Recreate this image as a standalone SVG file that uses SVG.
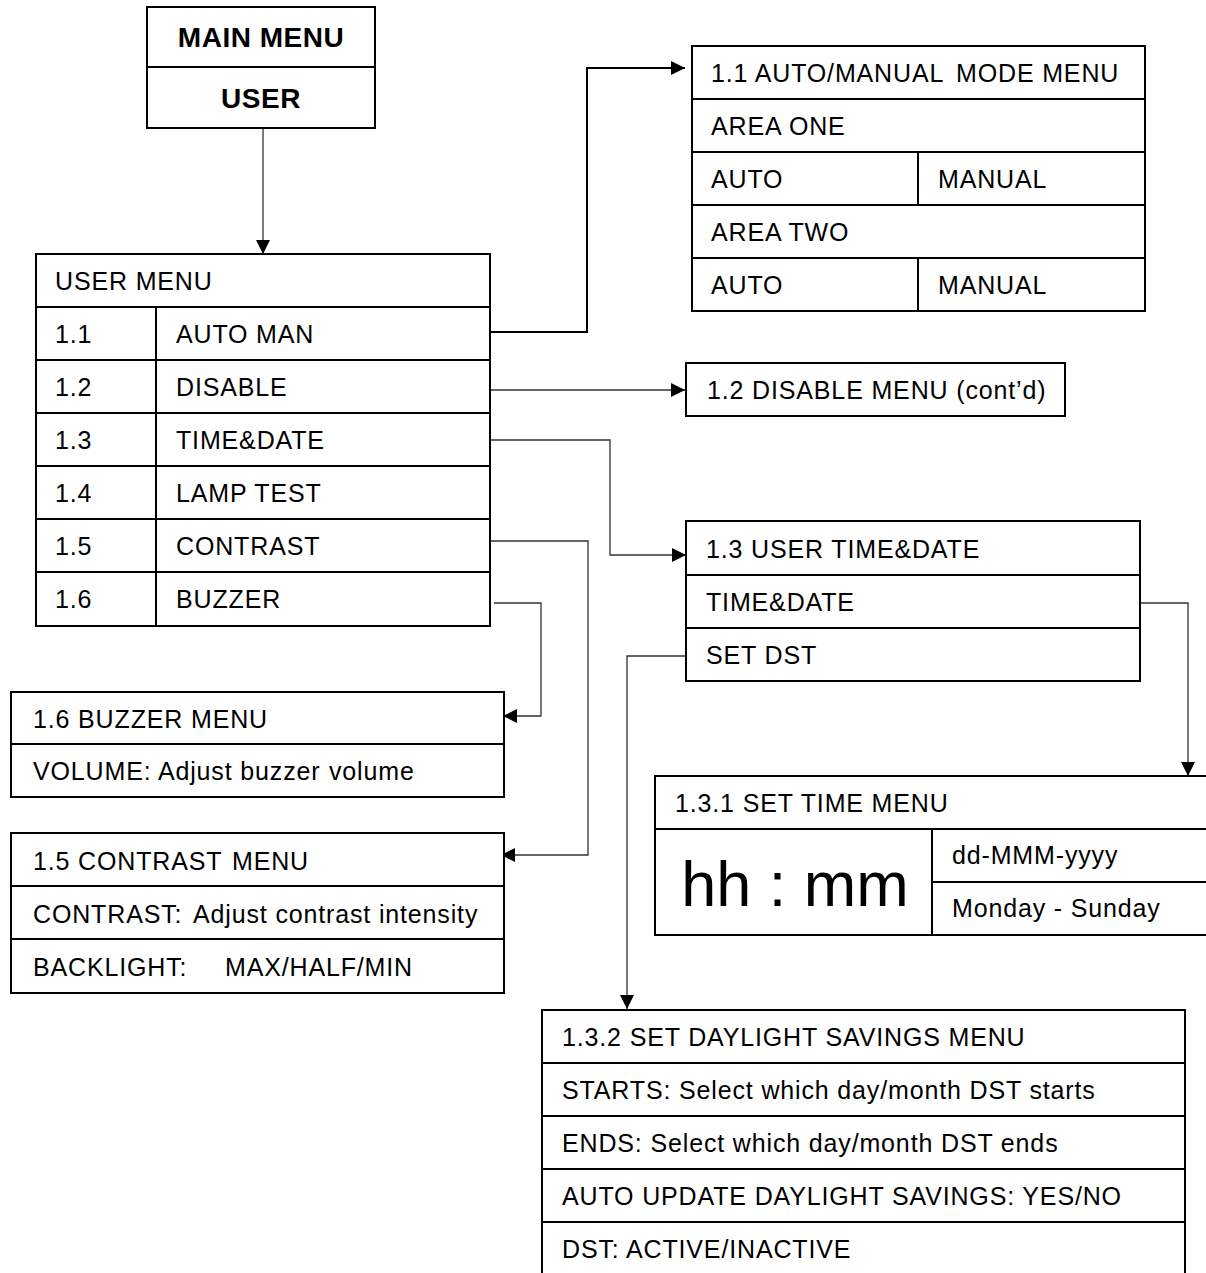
<svg xmlns="http://www.w3.org/2000/svg" width="1206" height="1273" viewBox="0 0 1206 1273">
<style>
.box{fill:#fff;stroke:#000;stroke-width:2}
.div{stroke:#000;stroke-width:2}
.t{font-family:"Liberation Sans",Arial,sans-serif;font-size:25px;letter-spacing:0.85px;fill:#000}
.b{font-family:"Liberation Sans",Arial,sans-serif;font-size:28px;font-weight:bold;letter-spacing:0.5px;fill:#000;text-anchor:middle}
.big{font-family:"Liberation Sans",Arial,sans-serif;font-size:63px;fill:#000;text-anchor:middle}
.c{fill:none;stroke:#333;stroke-width:1.3}
.ck{fill:none;stroke:#000;stroke-width:2}
</style>
<defs>
<marker id="ah" markerUnits="userSpaceOnUse" markerWidth="14" markerHeight="14" viewBox="0 0 14 14" refX="14" refY="7" orient="auto">
<path d="M0,0 L14,7 L0,14 Z" fill="#000"/>
</marker>
</defs>
<rect width="1206" height="1273" fill="#fff"/>

<g id="connectors">
<path class="c" d="M263,128 V254" marker-end="url(#ah)"/>
<path class="ck" d="M490,332 H587 V68 H685" marker-end="url(#ah)"/>
<path class="c" d="M490,390 H685" marker-end="url(#ah)"/>
<path class="c" d="M490,440 H610 V555 H686" marker-end="url(#ah)"/>
<path class="c" d="M490,541 H588 V855 H501" marker-end="url(#ah)"/>
<path class="c" d="M494,603 H541 V716 H503" marker-end="url(#ah)"/>
<path class="c" d="M686,656 H627 V1009" marker-end="url(#ah)"/>
<path class="c" d="M1140,603 H1188 V776" marker-end="url(#ah)"/>
</g>

<g id="main-menu">
<rect class="box" x="147" y="7" width="228" height="121"/>
<line class="div" x1="147" y1="67" x2="375" y2="67"/>
<text class="b" x="261" y="47">MAIN MENU</text>
<text class="b" x="261" y="108">USER</text>
</g>

<g id="user-menu">
<rect class="box" x="36" y="254" width="454" height="372"/>
<line class="div" x1="36" y1="307" x2="490" y2="307"/>
<line class="div" x1="36" y1="360" x2="490" y2="360"/>
<line class="div" x1="36" y1="413" x2="490" y2="413"/>
<line class="div" x1="36" y1="466" x2="490" y2="466"/>
<line class="div" x1="36" y1="519" x2="490" y2="519"/>
<line class="div" x1="36" y1="572" x2="490" y2="572"/>
<line class="div" x1="156" y1="307" x2="156" y2="626"/>
<text class="t" x="55" y="290">USER MENU</text>
<text class="t" x="55" y="343">1.1</text><text class="t" x="176" y="343">AUTO <tspan x="256">MAN</tspan></text>
<text class="t" x="55" y="396">1.2</text><text class="t" x="176" y="396">DISABLE</text>
<text class="t" x="55" y="449">1.3</text><text class="t" x="176" y="449">TIME&amp;DATE</text>
<text class="t" x="55" y="502">1.4</text><text class="t" x="176" y="502">LAMP TEST</text>
<text class="t" x="55" y="555">1.5</text><text class="t" x="176" y="555">CONTRAST</text>
<text class="t" x="55" y="608">1.6</text><text class="t" x="176" y="608">BUZZER</text>
</g>

<g id="auto-manual-menu">
<rect class="box" x="692" y="46" width="453" height="265"/>
<line class="div" x1="692" y1="99" x2="1145" y2="99"/>
<line class="div" x1="692" y1="152" x2="1145" y2="152"/>
<line class="div" x1="692" y1="205" x2="1145" y2="205"/>
<line class="div" x1="692" y1="258" x2="1145" y2="258"/>
<line class="div" x1="918" y1="152" x2="918" y2="205"/>
<line class="div" x1="918" y1="258" x2="918" y2="311"/>
<text class="t" x="711" y="82">1.1 AUTO/MANUAL <tspan x="956">MODE MENU</tspan></text>
<text class="t" x="711" y="135">AREA ONE</text>
<text class="t" x="711" y="188">AUTO</text><text class="t" x="938" y="188">MANUAL</text>
<text class="t" x="711" y="241">AREA TWO</text>
<text class="t" x="711" y="294">AUTO</text><text class="t" x="938" y="294">MANUAL</text>
</g>

<g id="disable-menu">
<rect class="box" x="686" y="363" width="379" height="53"/>
<text class="t" x="707" y="399">1.2 DISABLE MENU (cont’d)</text>
</g>

<g id="time-date-menu">
<rect class="box" x="686" y="521" width="454" height="160"/>
<line class="div" x1="686" y1="575" x2="1140" y2="575"/>
<line class="div" x1="686" y1="628" x2="1140" y2="628"/>
<text class="t" x="706" y="558">1.3 USER TIME&amp;DATE</text>
<text class="t" x="706" y="611">TIME&amp;DATE</text>
<text class="t" x="706" y="664">SET DST</text>
</g>

<g id="set-time-menu">
<rect class="box" x="655" y="776" width="570" height="159"/>
<line class="div" x1="655" y1="829" x2="1225" y2="829"/>
<line class="div" x1="932" y1="829" x2="932" y2="935"/>
<line class="div" x1="932" y1="882" x2="1225" y2="882"/>
<text class="t" x="675" y="812">1.3.1 SET TIME MENU</text>
<text class="big" x="795" y="906">hh : mm</text>
<text class="t" x="952" y="864">dd-MMM-yyyy</text>
<text class="t" x="952" y="917">Monday - Sunday</text>
</g>

<g id="buzzer-menu">
<rect class="box" x="11" y="692" width="493" height="105"/>
<line class="div" x1="11" y1="744" x2="504" y2="744"/>
<text class="t" x="33" y="728">1.6 BUZZER MENU</text>
<text class="t" x="33" y="780">VOLUME: Adjust buzzer <tspan x="329">volume</tspan></text>
</g>

<g id="contrast-menu">
<rect class="box" x="11" y="833" width="493" height="160"/>
<line class="div" x1="11" y1="886" x2="504" y2="886"/>
<line class="div" x1="11" y1="939" x2="504" y2="939"/>
<text class="t" x="33" y="870">1.5 CONTRAST <tspan x="232">MENU</tspan></text>
<text class="t" x="33" y="923">CONTRAST: <tspan x="193">Adjust contrast intensity</tspan></text>
<text class="t" x="33" y="976">BACKLIGHT: <tspan x="225">MAX/HALF/MIN</tspan></text>
</g>

<g id="daylight-savings-menu">
<rect class="box" x="542" y="1010" width="643" height="280"/>
<line class="div" x1="542" y1="1063" x2="1185" y2="1063"/>
<line class="div" x1="542" y1="1116" x2="1185" y2="1116"/>
<line class="div" x1="542" y1="1169" x2="1185" y2="1169"/>
<line class="div" x1="542" y1="1222" x2="1185" y2="1222"/>
<text class="t" x="562" y="1046">1.3.2 SET DAYLIGHT SAVINGS MENU</text>
<text class="t" x="562" y="1099">STARTS: Select which day/month DST starts</text>
<text class="t" x="562" y="1152">ENDS: Select which day/month DST ends</text>
<text class="t" x="562" y="1205">AUTO UPDATE DAYLIGHT SAVINGS: YES/NO</text>
<text class="t" x="562" y="1258">DST: ACTIVE/INACTIVE</text>
</g>
</svg>
